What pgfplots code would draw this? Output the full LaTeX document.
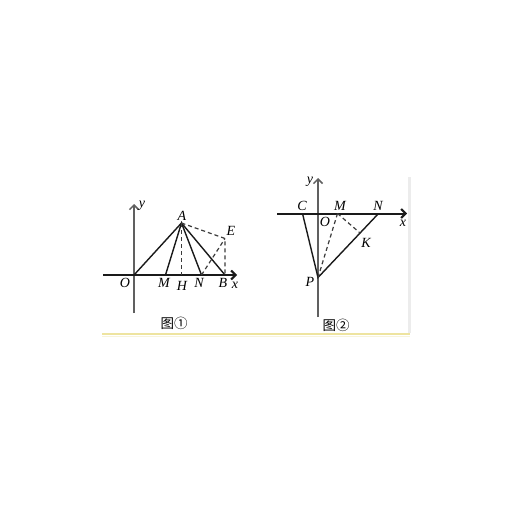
\documentclass[border=0pt]{standalone}
\usepackage{pgfplots}
\pgfplotsset{compat=1.18}
\usepackage{fontspec}
\setmainfont{Liberation Serif}
\newfontfamily\cjk{Noto Sans CJK SC}
\usetikzlibrary{arrows.meta}
\definecolor{axgray}{HTML}{606060}
\definecolor{ln}{HTML}{1A1A1A}
\definecolor{yel}{HTML}{EEE4A0}
\definecolor{brd}{HTML}{ECECEC}
\begin{document}
\begin{tikzpicture}
\begin{axis}[width=513pt,height=513pt,scale only axis,
  xmin=0,xmax=513,ymin=0,ymax=513,y dir=reverse,
  hide axis,clip=false]
\addplot[draw=none,fill=white] coordinates {(0,0)(513,0)(513,513)(0,513)} -- cycle;
% frame pieces
\addplot[brd,line width=3pt] coordinates {(409,177)(409,333)};
\addplot[yel,line width=2pt] coordinates {(102,333.5)(410,333.5)};
\addplot[yel!40,line width=1pt] coordinates {(102,336)(410,336)};
% ---------- figure 1 ----------
\addplot[axgray,line width=1.5pt,-{Straight Barb[length=4.5pt,width=9pt]}] coordinates {(134,313)(134,204)};
\addplot[ln,line width=2pt,-{Straight Barb[length=4.5pt,width=9pt]}] coordinates {(103,275)(237,275)};
\addplot[ln,line width=1.4pt] coordinates {(134,275)(181.5,223)(225,275)};
\addplot[ln,line width=1.4pt] coordinates {(165.5,275)(181.5,223)(201.5,275)};
\addplot[ln!85,line width=1.3pt,dash pattern=on 4pt off 3pt] coordinates {(181.5,223)(181.5,275)};
\addplot[ln!85,line width=1.2pt,dash pattern=on 4pt off 3pt] coordinates {(181.5,223)(225,238.5)(225,275)};
\addplot[ln!85,line width=1.2pt,dash pattern=on 4pt off 3pt] coordinates {(201.5,275)(225,238.5)};
\begin{scope}[every node/.style={font=\fontsize{14}{16}\selectfont\itshape,inner sep=0pt}]
\node at (axis cs:142,206) {y};
\node at (axis cs:182,216) {A};
\node at (axis cs:231,231) {E};
\node at (axis cs:125,283) {O};
\node at (axis cs:164,283) {M};
\node at (axis cs:182,286) {H};
\node at (axis cs:199,283) {N};
\node at (axis cs:223,283) {B};
\node at (axis cs:235,285) {x};
% ---------- figure 2 labels ----------
\node at (axis cs:310,182) {y};
\node at (axis cs:302,206) {C};
\node at (axis cs:340,206) {M};
\node at (axis cs:378,206) {N};
\node at (axis cs:325,222) {O};
\node at (axis cs:403,223) {x};
\node at (axis cs:366,243) {K};
\node at (axis cs:310,282) {P};
\end{scope}
\node[font=\cjk\fontsize{13.5}{15}\selectfont,inner sep=0pt] at (axis cs:174,323) {图①};
\node[font=\cjk\fontsize{13.5}{15}\selectfont,inner sep=0pt] at (axis cs:336,325) {图②};
% ---------- figure 2 ----------
\addplot[axgray,line width=1.5pt,-{Straight Barb[length=4.5pt,width=9pt]}] coordinates {(318,317)(318,178)};
\addplot[ln,line width=2pt,-{Straight Barb[length=4.5pt,width=9pt]}] coordinates {(277,213.5)(407,213.5)};
\addplot[ln,line width=1.4pt] coordinates {(302.5,213.5)(318,277.5)(378.5,213.5)};
\addplot[ln!85,line width=1.2pt,dash pattern=on 4pt off 3pt] coordinates {(337.5,213.5)(318,277.5)};
\addplot[ln!85,line width=1.2pt,dash pattern=on 4pt off 3pt] coordinates {(337.5,213.5)(360,233)};
\end{axis}
\end{tikzpicture}
\end{document}
